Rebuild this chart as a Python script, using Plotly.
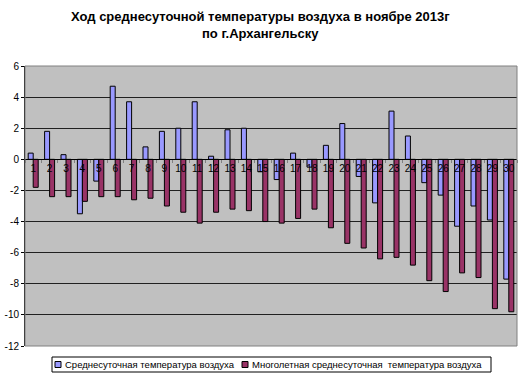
import plotly.graph_objects as go

days = [str(d) for d in range(1, 31)]
daily_mean = [0.4, 1.8, 0.3, -3.5, -1.4, 4.7, 3.7, 0.8, 1.8, 2.0,
              3.7, 0.2, 1.9, 2.0, -0.8, -1.3, 0.4, -0.5, 0.9, 2.3,
              -1.1, -2.8, 3.1, 1.5, -1.5, -2.3, -4.3, -3.0, -3.9, -7.7]
normal_mean = [-1.8, -2.4, -2.4, -2.7, -2.4, -2.4, -2.6, -2.5, -3.0, -3.4,
               -4.1, -3.4, -3.2, -3.3, -4.0, -4.1, -3.8, -3.2, -4.4, -5.4,
               -5.7, -6.4, -6.3, -6.8, -7.8, -8.5, -7.3, -7.6, -9.6, -9.8]
y_ticks = [6, 4, 2, 0, -2, -4, -6, -8, -10, -12]
name1 = "Среднесуточная температура воздуха"
name2 = "Многолетная среднесуточная  температура воздуха"
title1 = "Ход среднесуточной температуры воздуха в ноябре 2013г"
title2 = "по г.Архангельску"
color1 = "#9999FF"
color2 = "#993366"

W, H = 521, 377
ML, MR, MT, MB = 25, 4, 66, 31
PW = W - ML - MR
PH = H - MT - MB


def py(px):
    return (H - MB - px) / PH


def pxx(px):
    return (px - ML) / PW


fig = go.Figure()
fig.add_trace(go.Bar(x=days, y=daily_mean, name=name1,
                     marker=dict(color=color1, line=dict(color="#000000", width=1))))
fig.add_trace(go.Bar(x=days, y=normal_mean, name=name2,
                     marker=dict(color=color2, line=dict(color="#000000", width=1))))

shapes = [
    dict(type="rect", xref="paper", yref="paper", x0=0, x1=1, y0=0, y1=1,
         line=dict(color="#808080", width=1), fillcolor="rgba(0,0,0,0)", layer="above"),
    # legend box
    dict(type="rect", xref="paper", yref="paper", x0=pxx(52), x1=pxx(491), y0=py(357), y1=py(372),
         line=dict(color="black", width=1), fillcolor="white"),
    dict(type="rect", xref="paper", yref="paper", x0=pxx(55), x1=pxx(61), y0=py(361.5), y1=py(367.5),
         line=dict(color="black", width=1), fillcolor=color1),
    dict(type="rect", xref="paper", yref="paper", x0=pxx(242), x1=pxx(248), y0=py(361.5), y1=py(367.5),
         line=dict(color="black", width=1), fillcolor=color2),
]

annotations = [
    dict(text="<b>" + title1 + "</b>", x=pxx(260), xref="paper", xanchor="center",
         y=py(17), yref="paper", yanchor="middle", showarrow=False, font=dict(size=13)),
    dict(text="<b>" + title2 + "</b>", x=pxx(260), xref="paper", xanchor="center",
         y=py(34), yref="paper", yanchor="middle", showarrow=False, font=dict(size=13)),
    dict(text=name1, x=pxx(63), xref="paper", xanchor="left",
         y=py(364.5), yref="paper", yanchor="middle", showarrow=False, font=dict(size=9.5)),
    dict(text=name2, x=pxx(250), xref="paper", xanchor="left",
         y=py(364.5), yref="paper", yanchor="middle", showarrow=False, font=dict(size=9.5)),
]

fig.update_layout(
    width=W, height=H,
    margin=dict(l=ML, r=MR, t=MT, b=MB, autoexpand=False),
    paper_bgcolor="white",
    plot_bgcolor="#C0C0C0",
    barmode="group",
    bargap=0.39,
    bargroupgap=0,
    font=dict(family="Liberation Sans, Arial, sans-serif", size=10, color="black"),
    showlegend=False,
    shapes=shapes,
    annotations=annotations,
    xaxis=dict(anchor="free", position=12 / 18, showline=True, linecolor="black",
               linewidth=1, ticks="outside", ticklen=3, tickcolor="#808080",
               tickson="boundaries", showgrid=False, tickfont=dict(size=10),
               tickangle=0, fixedrange=True),
    yaxis=dict(range=[-12, 6], tickvals=y_ticks, ticktext=[str(v) for v in y_ticks],
               showgrid=True, gridcolor="#202020", gridwidth=1,
               zeroline=True, zerolinecolor="black", zerolinewidth=1,
               showline=True, linecolor="black", linewidth=1,
               ticks="outside", ticklen=3, tickcolor="black",
               tickfont=dict(size=10), domain=[0, 1]),
)

fig.write_html("out.html", config={"displayModeBar": False},
               post_script="document.body.style.margin='0px';document.body.style.overflow='hidden';")
